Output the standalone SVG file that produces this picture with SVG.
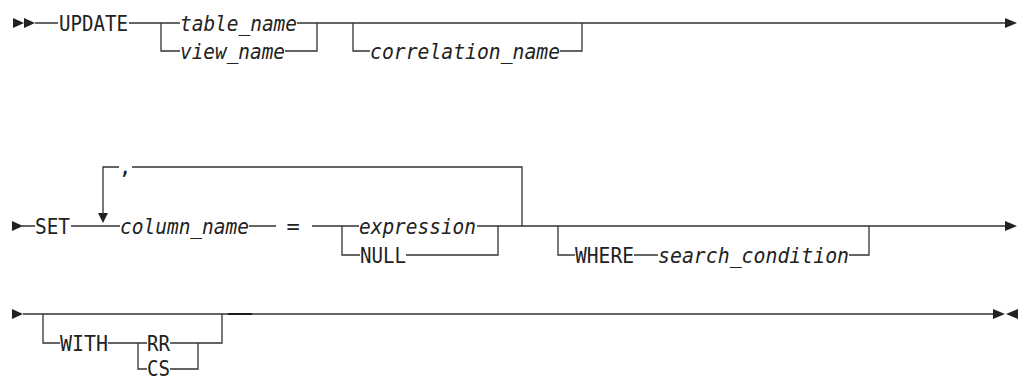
<svg xmlns="http://www.w3.org/2000/svg" width="1025" height="379" viewBox="0 0 1025 379">
<style>
text{font-family:"DejaVu Sans Mono","Liberation Mono",monospace;font-size:22px;fill:#222}
.v{font-style:italic}
.ln{fill:none;stroke:#333;stroke-width:1.3}
.hd{fill:#222;stroke:none}
.def{stroke:#1a1a1a;stroke-width:2}
</style>
<rect width="1025" height="379" fill="#fff"/>
<g id="connectors">
<path class="ln" d="M35 23H58M129 23H180M297 23H1005M161 23V51H180M285 51H317V23M353 23V51H370M560 51H582V23"/>
<path class="ln" d="M22 226H35M71 226H120M249 226H276M312 226H359M477 226H1005M342 226V255H360M406 255H498V226M103 218V167H119M132 167H522V226M558 226V255H575M634 255H658M849 255H869V226"/>
<path class="ln" d="M23 314H993M43 314V343H60M108 343H147M170 343H222V314M138 343V369H147M170 369H198V343"/>
<path class="ln def" d="M228 314H252"/>
<path class="hd" d="M13 18L24 23L13 28ZM24 18L35 23L24 28Z"/>
<path class="hd" d="M1005 18L1017 23L1005 28Z"/>
<path class="hd" d="M12 221L23 226L12 231Z"/>
<path class="hd" d="M98 213L108 213L103 223Z"/>
<path class="hd" d="M1005 221L1017 226L1005 231Z"/>
<path class="hd" d="M12 309L23 314L12 319Z"/>
<path class="hd" d="M993 309L1005 314L993 319ZM1018 309L1006 314L1018 319Z"/>
</g>
<g id="n-update"><text x="59" y="31" textLength="69" lengthAdjust="spacingAndGlyphs">UPDATE</text></g>
<g id="n-table"><text class="v" x="180" y="31" textLength="117" lengthAdjust="spacingAndGlyphs">table_name</text></g>
<g id="n-view"><text class="v" x="180" y="59" textLength="105" lengthAdjust="spacingAndGlyphs">view_name</text></g>
<g id="n-corr"><text class="v" x="370" y="59" textLength="190" lengthAdjust="spacingAndGlyphs">correlation_name</text></g>
<g id="n-set"><text x="35" y="234" textLength="35" lengthAdjust="spacingAndGlyphs">SET</text></g>
<g id="n-comma"><text x="125" y="174" text-anchor="middle">,</text></g>
<g id="n-col"><text class="v" x="120" y="234" textLength="129" lengthAdjust="spacingAndGlyphs">column_name</text></g>
<g id="n-eq"><text x="293" y="234" text-anchor="middle">=</text></g>
<g id="n-expr"><text class="v" x="359" y="234" textLength="117" lengthAdjust="spacingAndGlyphs">expression</text></g>
<g id="n-null"><text x="360" y="263" textLength="46" lengthAdjust="spacingAndGlyphs">NULL</text></g>
<g id="n-where"><text x="575" y="263" textLength="59" lengthAdjust="spacingAndGlyphs">WHERE</text></g>
<g id="n-search"><text class="v" x="658" y="263" textLength="191" lengthAdjust="spacingAndGlyphs">search_condition</text></g>
<g id="n-with"><text x="60" y="351" textLength="48" lengthAdjust="spacingAndGlyphs">WITH</text></g>
<g id="n-rr"><text x="147" y="351" textLength="23" lengthAdjust="spacingAndGlyphs">RR</text></g>
<g id="n-cs"><text x="147" y="376" textLength="23" lengthAdjust="spacingAndGlyphs">CS</text></g>
</svg>
